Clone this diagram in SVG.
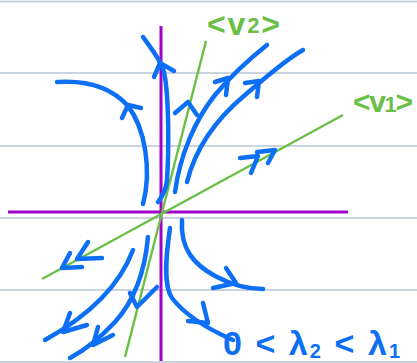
<svg xmlns="http://www.w3.org/2000/svg" width="417" height="363" viewBox="0 0 417 363">
<style>
.grid{stroke:#b9c5d6;stroke-width:1.5;fill:none}
.axis{stroke:#a000c8;stroke-width:3;fill:none}
.eig{stroke:#6abf46;stroke-width:2.4;fill:none}
.flow{stroke:#0d6ff5;stroke-width:4.5;fill:none;stroke-linecap:round;stroke-linejoin:round}
.lbl{font-family:"Liberation Sans",Arial,sans-serif;font-weight:bold;fill:#6abf46}
.cond{font-family:"Liberation Sans",Arial,sans-serif;font-weight:bold;fill:#0d6ff5}
</style>
<rect x="0" y="0" width="417" height="363" fill="#ffffff"/>
<g id="paper">
<line class="grid" x1="0" y1="1.5" x2="417" y2="1.5"/>
<line class="grid" x1="0" y1="73" x2="417" y2="73"/>
<line class="grid" x1="0" y1="146" x2="417" y2="146"/>
<line class="grid" x1="0" y1="218" x2="417" y2="218"/>
<line class="grid" x1="0" y1="290" x2="417" y2="290"/>
<line class="grid" x1="0" y1="362" x2="417" y2="362"/>
</g>
<g id="axes">
<line class="axis" x1="161" y1="26" x2="161" y2="361"/>
<line class="axis" x1="8" y1="212" x2="348" y2="212"/>
</g>
<g id="eigenlines">
<line class="eig" x1="125" y1="357" x2="206" y2="41"/>
<line class="eig" x1="42" y1="279" x2="343" y2="115"/>
</g>
<g id="labels">
<text class="lbl" x="207" y="35" font-size="32" textLength="73" lengthAdjust="spacing">&lt;v<tspan font-size="22" dy="-2">2</tspan><tspan dy="2">&gt;</tspan></text>
<text class="lbl" x="353" y="112" font-size="30" textLength="60" lengthAdjust="spacing">&lt;v<tspan font-size="22">1</tspan>&gt;</text>
<text class="cond" x="223" y="355" font-size="34" textLength="177" lengthAdjust="spacing">0 &lt; λ<tspan font-size="20" dy="3">2</tspan><tspan dy="-3"> &lt; λ</tspan><tspan font-size="20" dy="3">1</tspan></text>
</g>
<g id="connectors">
<path class="flow" d="M57,82 C88,80 112,88 128,106 C145,128 152,170 143,204"/>
<path class="flow" d="M122,118 L128,105 L141,108"/>
<path class="flow" d="M143,37 C150,47 160,58 164,72 C169,95 169,150 167,180 C166,192 161,198 158,202"/>
<path class="flow" d="M154,77 L160,63 L174,71"/>
<path class="flow" d="M175,192 C180,155 195,120 215,95 C230,77 248,60 267,45"/>
<path class="flow" d="M215,82 L228,78 L226,95"/>
<path class="flow" d="M187,182 C195,150 215,120 245,95 C265,78 285,60 303,50"/>
<path class="flow" d="M245,83 L259,81 L257,97"/>
<path class="flow" d="M175,113 L188,102 L197,115"/>
<path class="flow" d="M240,158 L258,156 L251,173"/>
<path class="flow" d="M257,152 L275,150 L268,163"/>
<path class="flow" d="M70,253 L62,268 L82,267"/>
<path class="flow" d="M88,242 L77,259 L102,258"/>
<path class="flow" d="M130,293 L137,307 L157,287"/>
<path class="flow" d="M133,250 C120,285 90,315 45,340"/>
<path class="flow" d="M70,313 L63,332 L87,325"/>
<path class="flow" d="M148,237 C145,270 135,300 115,322 C100,338 85,350 70,358"/>
<path class="flow" d="M98,327 L93,345 L113,335"/>
<path class="flow" d="M182,220 C180,250 195,265 215,276 C230,284 248,289 263,289"/>
<path class="flow" d="M226,268 L236,283 L213,288"/>
<path class="flow" d="M170,228 C166,255 163,285 172,298 C185,315 210,330 233,340"/>
<path class="flow" d="M203,303 L208,323 L188,321"/>
</g>
</svg>
